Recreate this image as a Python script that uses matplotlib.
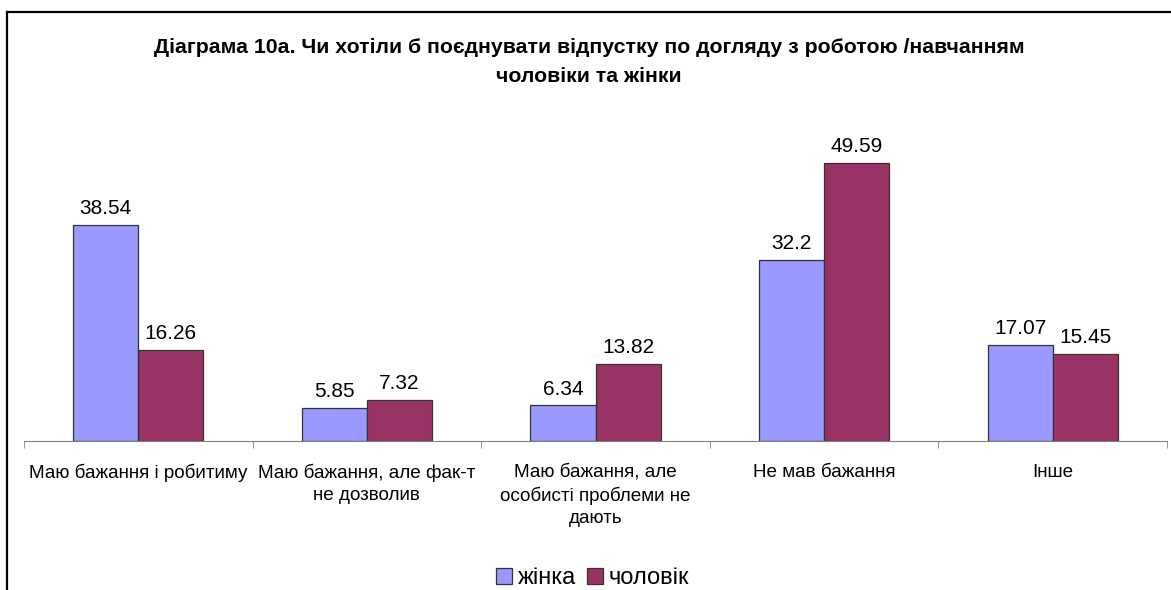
import numpy as np
import matplotlib.pyplot as plt
from matplotlib.lines import Line2D

plt.rcParams['font.family'] = ['Liberation Sans', 'DejaVu Sans']

categories = [
    "Маю бажання і робитиму",
    "Маю бажання, але фак-т\nне дозволив",
    "Маю бажання, але\nособисті проблеми не\nдають",
    "Не мав бажання",
    "Інше",
]
women = [38.54, 5.85, 6.34, 32.2, 17.07]
men = [16.26, 7.32, 13.82, 49.59, 15.45]
women_labels = ["38.54", "5.85", "6.34", "32.2", "17.07"]
men_labels = ["16.26", "7.32", "13.82", "49.59", "15.45"]

title = ("Діаграма 10а. Чи хотіли б поєднувати відпустку по догляду з роботою /навчанням\n"
         "чоловіки та жінки")

fig = plt.figure(figsize=(11.71, 5.90), dpi=100)
ax = fig.add_axes([0.0205, 0.2525, 0.9761, 0.5704])

x = np.arange(len(categories))
w = 0.285
b1 = ax.bar(x - w / 2, women, w, color="#9999FF", edgecolor="#333333", linewidth=0.9, label="жінка")
b2 = ax.bar(x + w / 2, men, w, color="#993366", edgecolor="#333333", linewidth=0.9, label="чоловік")

for bars, labs in ((b1, women_labels), (b2, men_labels)):
    for r, s in zip(bars, labs):
        ax.annotate(s, (r.get_x() + r.get_width() / 2, r.get_height()),
                    xytext=(0, 5), textcoords="offset points",
                    ha="center", va="bottom", fontsize=15)

ax.set_xlim(-0.5, len(categories) - 0.5)
ax.set_ylim(0, 60)
ax.set_yticks([])
for s in ("left", "right", "top"):
    ax.spines[s].set_visible(False)
ax.spines["bottom"].set_color("#808080")
ax.set_xticks(x)
ax.set_xticklabels(categories, fontsize=13.6, linespacing=1.38, va="top")
ax.tick_params(axis="x", which="major", length=0, pad=16.5)
ax.set_xticks(np.arange(-0.5, len(categories)), minor=True)
ax.tick_params(axis="x", which="minor", length=5, color="#808080", direction="out")

fig.text(0.503, 0.8946, title, ha="center", va="center", fontsize=15.3,
         fontweight="bold", linespacing=1.66)

fig.legend(loc="center", bbox_to_anchor=(0.506, 0.02), ncol=2, frameon=False,
           fontsize=17, handlelength=0.68, handleheight=0.68, handletextpad=0.25,
           columnspacing=0.45)

# outer frame (left and top edges visible)
fig.add_artist(Line2D([0.006, 0.006], [0.0, 0.979], color="black", linewidth=1.6))
fig.add_artist(Line2D([0.006, 1.0], [0.979, 0.979], color="black", linewidth=1.6))

fig.savefig("out.png", dpi=100)
